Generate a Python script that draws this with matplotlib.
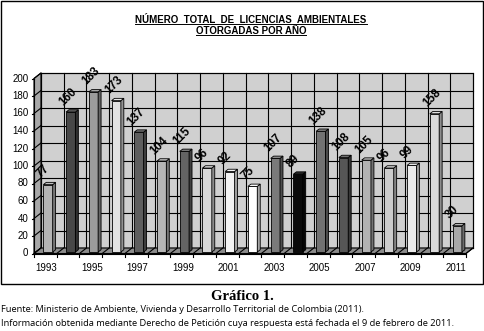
import numpy as np
import matplotlib.pyplot as plt
from matplotlib.patches import Polygon, Rectangle
from matplotlib.lines import Line2D
from matplotlib.colors import to_rgb

'''data'''
years = list(range(1993, 2012))
licencias = [77, 160, 183, 173, 137, 104, 115, 96, 92, 75, 107, 89, 138, 108, 105, 96, 99, 158, 30]
bar_colors = ['#b4b4b4', '#484848', '#9c9c9c', '#e2e2e2', '#5e5e5e', '#b6b6b6', '#646464', '#d8d8d8',
              '#f2f2f2', '#ffffff', '#7a7a7a', '#0a0a0a', '#727272', '#565656', '#b2b2b2', '#cccccc',
              '#eaeaea', '#dadada', '#a8a8a8']
year_labels = ['1993', '', '1995', '', '1997', '', '1999', '', '2001', '', '2003', '', '2005', '',
               '2007', '', '2009', '', '2011']
y_ticks = [0, 20, 40, 60, 80, 100, 120, 140, 160, 180, 200]

title_1 = 'NÚMERO  TOTAL  DE  LICENCIAS  AMBIENTALES'
title_2 = 'OTORGADAS POR AÑO'
caption = 'Gráfico 1.'
fuente_1 = 'Fuente: Ministerio de Ambiente, Vivienda y Desarrollo Territorial de Colombia (2011).'
fuente_2 = 'Información obtenida mediante Derecho de Petición cuya respuesta está fechada el 9 de febrero de 2011.'

'''layout'''
W, H = 484, 331
plt.rcParams['font.family'] = ['Liberation Sans', 'DejaVu Sans']
fig = plt.figure(figsize=(W / 100, H / 100), dpi=100)


def fx(px):
    return px / W


def fy(py):
    return 1 - py / H


# front plane of the 3D box
left, right, y_zero, y_top = 34, 466, 253.5, 78.5
ax = fig.add_axes([fx(left), fy(y_zero), (right - left) / W, (y_zero - y_top) / H])
n = len(years)
ax.set_xlim(-0.5, n - 0.5)
ax.set_ylim(0, 200)
ax.axis('off')

px_x = (right - left) / n
px_y = (y_zero - y_top) / 200
dx = 7 / px_x      # depth offset of the back wall
dy = 5.5 / px_y
xs = np.arange(n)
x0, x1 = -0.5, n - 0.5

# back wall
ax.add_patch(Rectangle((x0 + dx, dy), n, 200, facecolor='#d0d0d0', edgecolor='black', lw=0.8,
                       zorder=0, clip_on=False))
# left wall
ax.add_patch(Polygon([(x0, 0), (x0 + dx, dy), (x0 + dx, 200 + dy), (x0, 200)], closed=True,
                     facecolor='#a8a8a8', edgecolor='black', lw=0.8, zorder=0, clip_on=False))
# floor
ax.add_patch(Polygon([(x0, 0), (x1, 0), (x1 + dx, dy), (x0 + dx, dy)], closed=True,
                     facecolor='#8c8c8c', edgecolor='black', lw=0.8, zorder=2, clip_on=False))

# grid
for y in y_ticks:
    ax.plot([x0 + dx, x1 + dx], [y + dy, y + dy], color='black', lw=0.8, zorder=1, clip_on=False)
    ax.plot([x0, x0 + dx], [y, y + dy], color='black', lw=0.8, zorder=1, clip_on=False)
    ax.plot([x0 - 0.1, x0], [y, y], color='black', lw=0.8, zorder=1, clip_on=False)
    ax.text(x0 - 0.25, y, str(y), ha='right', va='center', fontsize=7)
for i in range(n + 1):
    xb = x0 + i
    ax.plot([xb + dx, xb + dx], [dy, 200 + dy], color='black', lw=0.8, zorder=1, clip_on=False)
    ax.plot([xb, xb + dx], [0, dy], color='black', lw=0.8, zorder=3, clip_on=False)
    ax.plot([xb, xb], [0, -4], color='black', lw=0.8, zorder=3, clip_on=False)
ax.plot([x0, x0], [0, 200], color='black', lw=0.8, zorder=3, clip_on=False)
ax.plot([x0, x1], [0, 0], color='black', lw=0.8, zorder=3, clip_on=False)

for x, lab in zip(xs, year_labels):
    ax.text(x + 0.05, -16.5, lab, ha='center', va='center', fontsize=7)

# bars with a small 3D side and top
bw = 0.41
bx, by = 0.115, 1.7
bdx, bdy = 0.13, 2.6
ax.bar(xs + bx, licencias, width=bw, bottom=by, color=bar_colors, edgecolor='black',
       linewidth=0.6, zorder=5)
for x, v, c in zip(xs, licencias, bar_colors):
    xl = x + bx - bw / 2
    xr = x + bx + bw / 2
    top = v + by
    rgb = np.array(to_rgb(c))
    side = rgb * 0.65
    lid = rgb * 0.85 + 0.15
    ax.add_patch(Polygon([(xr, by), (xr + bdx, by + bdy), (xr + bdx, top + bdy), (xr, top)],
                         closed=True, facecolor=side, edgecolor='black', lw=0.6, zorder=5))
    ax.add_patch(Polygon([(xl, top), (xl + bdx, top + bdy), (xr + bdx, top + bdy), (xr, top)],
                         closed=True, facecolor=lid, edgecolor='black', lw=0.6, zorder=5))
    ax.text(xl - 0.02, top + 5, str(v), rotation=45, rotation_mode='anchor', ha='left',
            va='bottom', fontsize=8.5, fontweight='bold', zorder=6)

# frame around the chart
fig.add_artist(Rectangle((fx(1), fy(284)), 482 / W, 283 / H, transform=fig.transFigure,
                         fill=False, edgecolor='black', lw=1))

# underlined title
t1 = fig.text(fx(251), fy(20), title_1, ha='center', va='center', fontsize=7, fontweight='bold')
t2 = fig.text(fx(251), fy(31), title_2, ha='center', va='center', fontsize=7, fontweight='bold')
fig.canvas.draw()
r = fig.canvas.get_renderer()
for t in (t1, t2):
    bb = t.get_window_extent(r).transformed(fig.transFigure.inverted())
    fig.add_artist(Line2D([bb.x0, bb.x1], [bb.y0 + 0.002, bb.y0 + 0.002], transform=fig.transFigure,
                          color='black', lw=0.7))

# caption under the chart
fig.text(fx(242), fy(296), caption, ha='center', va='center', fontsize=10.5, fontweight='bold',
         family=['Liberation Serif', 'DejaVu Serif'])
fig.text(fx(1), fy(310), fuente_1, ha='left', va='center', fontsize=6.7, family=['Open Sans', 'DejaVu Sans'])
fig.text(fx(1), fy(324), fuente_2, ha='left', va='center', fontsize=6.7, family=['Open Sans', 'DejaVu Sans'])

fig.savefig('out.png', dpi=100)
